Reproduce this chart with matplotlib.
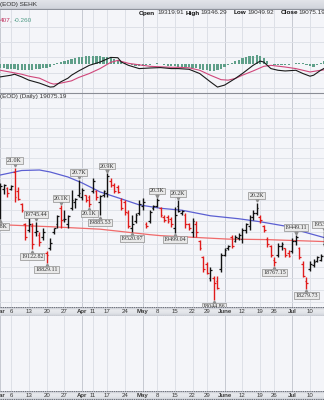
import numpy as np
import matplotlib.pyplot as plt
from matplotlib.colors import LinearSegmentedColormap
from matplotlib.transforms import offset_copy

plt.rcParams['font.family'] = ['Liberation Sans', 'DejaVu Sans']

W, H = 324, 400

# trading-day index, 0 = Mar 6 2023 (first bar is Mar 1)
day_idx = np.arange(-3, 89)

opens = [
    19850, 20500, 20520, 20500, 20900, 20450, 20150, 19700, 19550, 19650,
    19500, 19450, 19400, 19050, 19150, 19500, 19700, 20050, 19800, 19700,
    20050, 20200, 20350, 20300, 20350, 20300, 20450, 20450, 20200, 20350,
    20400, 20700, 20600, 20550, 20250, 20200, 19950, 19600, 19750, 19950,
    20100, 19700, 19750, 20050, 20100, 20050, 19850, 19850, 19800, 19600,
    20100, 19950, 19900, 19700, 19500, 19700, 19300, 18950, 18800, 18500,
    18500, 18450, 18700, 19000, 19150, 19400, 19320, 19380, 19350, 19550,
    19650, 19850, 19950, 19850, 19650, 19350, 19200, 18900, 19000, 19200,
    19150, 19050, 19100, 19300, 19150, 18800, 18450, 18700, 18780, 18880,
    18900, 19250]
highs = [
    20640, 20620, 20550, 20600, 21010, 20550, 20175, 19720, 19830, 19720,
    19745.44, 19500, 19600, 19080, 19385, 19610, 19900, 20120, 20015, 19900,
    20480, 20290, 20720, 20525, 20361, 20361, 20760, 20478, 20361, 20478,
    20880, 20760, 20642, 20595, 20291, 20245, 20015, 19901, 19946, 20245,
    20291, 19742, 20015, 20129, 20290, 20083, 19901, 19901, 19855, 20083,
    20240, 20015, 19946, 19720, 19832, 19765, 19341, 18970, 18840, 18733,
    18541, 18541, 19056, 19165, 19231, 19451, 19451, 19496, 19607, 19720,
    19901, 20015, 20180, 19901, 19675, 19407, 19231, 18948, 19275, 19297,
    19165, 19122, 19385, 19449.11, 19187, 18862, 18520, 18862, 18905, 18990,
    19013, 19530]
lows = [
    19800, 20380, 20310, 20480, 20200, 20245, 19970, 19340, 19500, 19122.82,
    19430, 19190, 19340, 18829.11, 19122, 19470, 19610, 19610, 19745, 19610,
    20015, 20060, 20314, 20245, 20199, 20083, 20408, 20245, 19885.53, 20314,
    20314, 20548, 20408, 20408, 20015, 19901, 19607, 19520.97, 19720, 19901,
    20015, 19607, 19720, 20015, 20083, 19855, 19742, 19720, 19630, 19499.04,
    19969, 19901, 19607, 19563, 19407, 19407, 19122, 18626, 18584, 18435,
    18044.86, 18267, 18626, 18970, 19122, 19165, 19297, 19341, 19275, 19496,
    19563, 19787, 19901, 19720, 19518, 19187, 18948, 18767.15, 18948, 19122,
    18948, 18948, 19056, 19231, 18905, 18520, 18279.73, 18647, 18733, 18840,
    18862, 19200]
closes = [
    20580, 20600, 20400, 20560, 20320, 20270, 20000, 19400, 19700, 19250,
    19540, 19280, 19520, 19000, 19260, 19590, 19870, 19780, 19800, 19870,
    20250, 20270, 20400, 20470, 20250, 20150, 20700, 20300, 20330, 20450,
    20800, 20600, 20450, 20420, 20060, 19960, 19640, 19700, 19900, 20150,
    20200, 19650, 19960, 20100, 20250, 19900, 19780, 19750, 19680, 19900,
    19980, 19990, 19700, 19600, 19750, 19500, 19150, 18700, 18620, 18680,
    18400, 18300, 19000, 19120, 19200, 19190, 19400, 19450, 19550, 19680,
    19850, 19950, 20050, 19780, 19550, 19250, 19000, 18850, 19200, 19250,
    19000, 18980, 19320, 19400, 18950, 18550, 18400, 18800, 18850, 18950,
    18990, 19400]

# moving averages
ma50_idx = [-3, 3, 8, 11, 16, 20, 25, 31, 36, 42, 48, 56, 64, 70, 78, 81, 88]
ma50 = [20832, 20940, 20952, 20904, 20784, 20642, 20431, 20268, 20129,
        20050, 20005, 19878, 19810, 19742, 19630, 19540, 19385]
ma200_idx = [-3, 11, 25, 39, 42, 61, 72, 88]
ma200 = [19675, 19630, 19574, 19451, 19429, 19352, 19341, 19297]

# MACD(12,26,9)
macd_idx = [-3, 0, 1, 3, 5, 8, 11, 12, 14, 16, 17, 19, 22, 25, 28, 30, 31,
            33, 36, 39, 42, 45, 47, 50, 53, 56, 58, 60, 63, 65, 68, 70, 71,
            73, 75, 77, 80, 82, 84, 85, 87, 88]
macd = [-127, -110, -100, -127, -160, -190, -230, -227, -177, -140, -110,
        -67, -10, 23, 70, 67, 23, -10, -43, -37, -33, -43, -43, -50, -93,
        -177, -230, -210, -143, -93, -10, 33, 23, -43, -60, -67, -60, -93,
        -120, -110, -60, -40]
signal_idx = [-3, 0, 3, 5, 8, 11, 12, 14, 17, 19, 22, 25, 28, 30, 31, 33,
              36, 39, 42, 45, 47, 50, 53, 56, 59, 61, 63, 65, 68, 71, 73,
              77, 80, 82, 84, 87, 88]
signal = [-60, -80, -100, -120, -140, -190, -200, -190, -167, -133, -93,
          -43, 20, 40, 30, 10, -5, -20, -25, -30, -30, -35, -60, -110, -155,
          -160, -143, -110, -67, -20, -10, -27, -43, -60, -77, -60, -55]
hist = [
    -40, -40, -45, -50, -50, -55, -55, -60, -60, -55,
    -50, -45, -40, -35, -25, -10, 10, 25, 35, 45,
    55, 60, 70, 75, 80, 85, 85, 80, 80, 75,
    70, 60, 50, 40, 25, 10, 0, -10, -15, -15,
    -15, -10, -5, 5, 10, 5, -5, -15, -20, -20,
    -25, -25, -30, -30, -35, -40, -45, -55, -60, -65,
    -65, -60, -45, -30, -10, 10, 30, 45, 60, 70,
    80, 85, 90, 85, 60, 30, 5, -5, -10, -10,
    -10, -5, 5, 10, 15, 10, -10, -20, -25, -10,
    15, 35]

tick_idx = [-3, 0, 5, 10, 15, 20, 23, 27, 32, 37, 41, 46, 51, 55, 60, 65,
            70, 74, 79, 84]
tick_text = ['Mar', '6', '13', '20', '27', 'Apr', '11', '17', '24', 'May',
             '8', '15', '22', '29', 'June', '12', '19', '26', 'Jul', '10']
months = {'Mar', 'Apr', 'May', 'June', 'Jul'}

# swing-point price notes
note_idx = [-3, 1, 6, 7, 10, 14, 19, 22, 25, 27, 34, 41, 46, 47, 57, 69, 74,
            80, 83, 88]
note_text = ['19.8K', '21.0K', '19122.82', '19745.44', '18829.11', '20.1K',
             '20.7K', '20.1K', '19885.53', '20.9K', '19520.97', '20.3K',
             '19499.04', '20.2K', '18044.86', '20.2K', '18767.15',
             '19449.11', '18279.73', '19530.85']
note_side = ['lo', 'hi', 'lo', 'hi', 'lo', 'hi', 'hi', 'lo', 'lo', 'hi',
             'lo', 'hi', 'lo', 'hi', 'lo', 'hi', 'lo', 'hi', 'lo', 'hi']

PANEL = '#f4f5f9'
GRID = '#dde0e7'
GRID_M = '#c6c9d1'
xlo, xhi = -11 / 3.56, (W - 11) / 3.56

fig = plt.figure(figsize=(W / 100, H / 100), dpi=100)
fig.patch.set_facecolor(PANEL)


def px_axes(top, bottom):
    return fig.add_axes([0, 1 - bottom / H, 1, (bottom - top) / H])


def vgrid(ax):
    for i, t in zip(tick_idx, tick_text):
        ax.axvline(i, color=GRID_M if t in months else GRID, lw=0.7, zorder=0)


def panel(ax):
    ax.set_facecolor(PANEL)
    ax.set_xlim(xlo, xhi)
    ax.set_xticks([])
    ax.set_yticks([])
    for s in ax.spines.values():
        s.set_visible(False)
    vgrid(ax)


bar_cmap = LinearSegmentedColormap.from_list('bar', ['#c8cbd3', '#e8e9ed', '#e2e4e9', '#cdd0d7'])


def date_bar(top, bottom):
    ax = px_axes(top, bottom)
    ax.imshow(np.linspace(0, 1, 30).reshape(-1, 1), aspect='auto', cmap=bar_cmap,
              extent=(xlo, xhi, 0, 1))
    ax.set_xlim(xlo, xhi)
    ax.set_ylim(0, 1)
    ax.axis('off')
    ax.axhline(0.96, color='#6f737c', lw=0.8, ls=(0, (1.2, 0.8)))
    ax.axhline(0.04, color='#6f737c', lw=0.8, ls=(0, (1.2, 0.8)))
    for i, t in zip(tick_idx, tick_text):
        ax.text(i, 0.47, t, ha='center', va='center', fontsize=4.4,
                fontweight='bold' if t in months else 'normal', color='#3a3a3a')


# header strip
hdr = px_axes(0, 9.5)
hdr.imshow(np.linspace(0, 1, 10).reshape(-1, 1), aspect='auto',
           cmap=LinearSegmentedColormap.from_list('h', ['#e3e5ea', '#d2d5dc']),
           extent=(0, 1, 0, 1))
hdr.set_xlim(0, 1)
hdr.set_ylim(0, 1)
hdr.axis('off')
hdr.axhline(0.02, color='#8e929b', lw=0.9)
hdr.text(0.5 / W, 0.5, '(EOD) SEHK', fontsize=4.6, va='center', color='#2d2d2d')

# MACD panel
ax_m = px_axes(9.5, 92.5)
panel(ax_m)
ax_m.set_ylim(-285, 555)
for g in [380, 225, 70, -85, -240]:
    ax_m.axhline(g, color=GRID, lw=0.7, zorder=0)
ax_m.bar(day_idx, hist, width=0.62, bottom=0, color='#5f9f89', zorder=2)
ax_m.plot(signal_idx, signal, color='#d0467a', lw=0.8, zorder=3)
ax_m.plot(macd_idx, macd, color='#1a1a1a', lw=0.8, zorder=4)
ax_m.text(0.3 / W, 1 - 11.5 / 83, '407', transform=ax_m.transAxes, fontsize=4.6,
          color='#c0305e', va='center')
ax_m.text(9.5 / W, 1 - 11.5 / 83, ',', transform=ax_m.transAxes, fontsize=4.6,
          color='#777777', va='center')
ax_m.text(14 / W, 1 - 11.5 / 83, '-0.260', transform=ax_m.transAxes, fontsize=4.6,
          color='#4f9b86', va='center')

# quote line
qy = 1 - 13 / H
for x, t, b in [(139, 'Open', True), (157.5, '19319.91', False), (186, 'High', True),
                (200, '19346.29', False), (234, 'Low', True), (247, '19049.92', False),
                (281, 'Close', True), (298, '19075.19', False)]:
    fig.text(x / W, qy, t, fontsize=4.6, fontweight='bold' if b else 'normal',
             color='#111111' if b else '#333333', va='center')

fig.add_artist(plt.Line2D([0, 1], [1 - 92.6 / H] * 2, color='#8a8d95', lw=0.8))

# price panel
ax_p = px_axes(93, 307)
panel(ax_p)
ax_p.set_yscale('log')
ax_p.set_ylim(17899, 22891)
ax_p.minorticks_off()
ax_p.set_yticks([])
for g in np.arange(18000, 22900, 250):
    ax_p.axhline(g, color=GRID, lw=0.6, zorder=0)

ax_p.plot(ma200_idx, ma200, color='#f06a6a', lw=0.9, zorder=2)
ax_p.plot(ma50_idx, ma50, color='#5b5fd2', lw=0.9, zorder=2)

prev = None
for i, o, h, l, c in zip(day_idx, opens, highs, lows, closes):
    col = '#e01b1b' if (prev is not None and c < prev) else '#111111'
    ax_p.vlines(i, l, h, color=col, lw=1.0, zorder=3)
    ax_p.hlines(o, i - 0.5, i, color=col, lw=0.9, zorder=3)
    ax_p.hlines(c, i, i + 0.5, color=col, lw=0.9, zorder=3)
    prev = c

up_tr = offset_copy(ax_p.transData, fig=fig, x=0, y=1.6, units='points')
dn_tr = offset_copy(ax_p.transData, fig=fig, x=0, y=-1.6, units='points')
box = dict(boxstyle='square,pad=0.15', fc='#e9e9e9', ec='#8e8e8e', lw=0.5)
for i, t, s in zip(note_idx, note_text, note_side):
    k = i + 3
    if s == 'hi':
        y = highs[k]
        ax_p.plot(i, y, marker='v', ms=2.2, color='#8e8e8e', transform=up_tr, zorder=5)
        ax_p.annotate(t, (i, y), xytext=(0, 3.2), textcoords='offset points',
                      ha='center', va='bottom', fontsize=4.3, family='Liberation Serif',
                      color='#333333', bbox=box, zorder=6)
    else:
        y = lows[k]
        ax_p.plot(i, y, marker='^', ms=2.2, color='#8e8e8e', transform=dn_tr, zorder=5)
        ax_p.annotate(t, (i, y), xytext=(0, -3.2), textcoords='offset points',
                      ha='center', va='top', fontsize=4.3, family='Liberation Serif',
                      color='#333333', bbox=box, zorder=6)

ax_p.text(0.3 / W, 1 - 3.5 / 214, '(EOD) (Daily) 19075.19', transform=ax_p.transAxes,
          fontsize=4.6, va='center', color='#333333', zorder=6)

date_bar(307, 316)

# empty lower panel
ax_v = px_axes(316, 391)
panel(ax_v)

date_bar(391, 399.5)

fig.savefig('out.png', dpi=100, facecolor=fig.get_facecolor())
